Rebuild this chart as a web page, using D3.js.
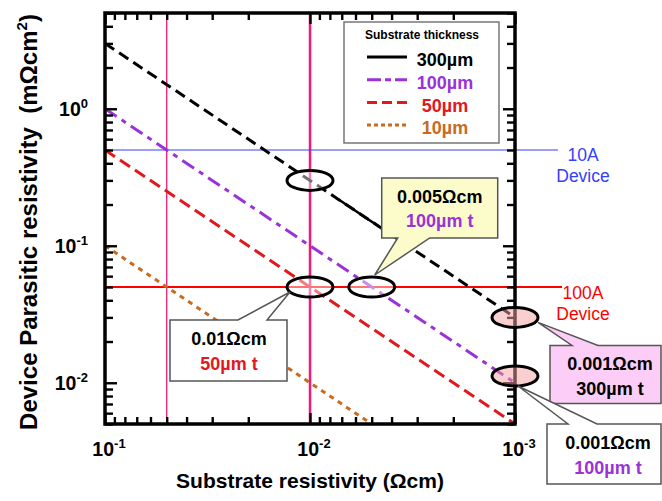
<!DOCTYPE html>
<html>
<head>
<meta charset="utf-8">
<script src="https://cdn.jsdelivr.net/npm/d3@7"></script>
<style>
  body { margin: 0; background: #fff; }
  svg text { font-family: "Liberation Sans", Arial, Helvetica, sans-serif; }
</style>
</head>
<body>
<div id="chart"></div>
<script>
// substrate resistivity (Ωcm) where the lines are sampled
const resistivity = [0.1, 0.01, 0.001];
const thickness = ["300µm", "100µm", "50µm", "10µm"];
// device parasitic resistivity (mΩcm²) per thickness
const para300 = [3, 0.3, 0.03];
const para100 = [1, 0.1, 0.01];
const para50 = [0.5, 0.05, 0.005];
const para10 = [0.1, 0.01, 0.001];
// the 300µm line is drawn solid only in this stretch
const solid300 = [0.0072, 0.0046];

// guide lines
const vGuides = [0.05, 0.01];
const hGuides = [0.5, 0.05];
const hGuideText = [["10A", "Device"], ["100A", "Device"]];

const xTickLabels = [0.1, 0.01, 0.001];
const yTickLabels = [1, 0.1, 0.01];

// circled points (x in Ωcm, y in mΩcm²)
const markX = [0.01, 0.01, 0.005, 0.001, 0.001];
const markY = [0.3, 0.05, 0.05, 0.03, 0.0112];

// callout texts, pointing at the circled points
const calloutMark = [2, 1, 3, 4];
const calloutTop = ["0.005Ωcm", "0.01Ωcm", "0.001Ωcm", "0.001Ωcm"];
const calloutBottom = ["100µm t", "50µm t", "300µm t", "100µm t"];

const colors = ["#000000", "#9a32d8", "#e3171e", "#c96a1c"];
const dashes = ["11,6", "14,6,5,6", "12,6", "5,5"];

var W = 662, H = 501;
var pL = 105, pR = 515, pT = 13, pB = 424;

var svg = d3.select("#chart").append("svg")
    .attr("width", W).attr("height", H);

var x = d3.scaleLog().domain([0.1, 0.001]).range([pL, pR]);
var y = d3.scaleLog().domain([5, 0.005]).range([pT, pB]);

svg.append("clipPath").attr("id", "plot")
  .append("rect").attr("x", pL).attr("y", pT)
  .attr("width", pR - pL).attr("height", pB - pT);
svg.append("clipPath").attr("id", "solidpart")
  .append("rect").attr("x", x(solid300[0])).attr("y", pT)
  .attr("width", x(solid300[1]) - x(solid300[0])).attr("height", pB - pT);

// vertical pink guides
svg.selectAll("line.vg").data(vGuides).enter().append("line")
    .attr("x1", d => x(d)).attr("x2", d => x(d))
    .attr("y1", pT).attr("y2", pB)
    .attr("stroke", "#f0197a")
    .attr("stroke-width", (d, i) => i == 0 ? 1.3 : 2.5);

// horizontal device guides, running past the frame
svg.selectAll("line.hg").data(hGuides).enter().append("line")
    .attr("x1", pL).attr("x2", (d, i) => i == 0 ? 558 : 562)
    .attr("y1", d => y(d)).attr("y2", d => y(d))
    .attr("stroke", (d, i) => i == 0 ? "#3340ff" : "#ff0000")
    .attr("stroke-width", (d, i) => i == 0 ? 1.2 : 2);

// data lines
var series = [para300, para100, para50, para10];
var line = d3.line().x(d => x(d[0])).y(d => y(d[1]));
var lineG = svg.append("g").attr("clip-path", "url(#plot)");
series.forEach(function (vals, i) {
  lineG.append("path")
    .datum(resistivity.map((r, k) => [r, vals[k]]))
    .attr("d", line)
    .attr("fill", "none")
    .attr("stroke", colors[i])
    .attr("stroke-width", 3)
    .attr("stroke-dasharray", dashes[i]);
});
svg.append("path")
    .datum(resistivity.map((r, k) => [r, para300[k]]))
    .attr("d", line)
    .attr("clip-path", "url(#solidpart)")
    .attr("fill", "none").attr("stroke", "#000").attr("stroke-width", 2.5);

// ticks on all four sides, pointing inward
function isDecade(v) {
  var l = Math.log10(v);
  return Math.abs(l - Math.round(l)) < 1e-6;
}
var xMinor = x.ticks().filter(v => !isDecade(v)), xMajor = x.ticks().filter(isDecade);
var yMinor = y.ticks().filter(v => !isDecade(v)), yMajor = y.ticks().filter(isDecade);

function tickGroup(axis, tx, ty) {
  var g = svg.append("g").attr("transform", "translate(" + tx + "," + ty + ")").call(axis);
  g.select(".domain").remove();
  g.selectAll(".tick line").attr("stroke", "#000").attr("stroke-width", 2.4);
  g.selectAll(".tick text").remove();
}
tickGroup(d3.axisBottom(x).tickValues(xMinor).tickSize(-7), 0, pB);
tickGroup(d3.axisBottom(x).tickValues(xMajor).tickSize(-11), 0, pB);
tickGroup(d3.axisTop(x).tickValues(xMinor).tickSize(-7), 0, pT);
tickGroup(d3.axisTop(x).tickValues(xMajor).tickSize(-11), 0, pT);
tickGroup(d3.axisLeft(y).tickValues(yMinor).tickSize(-8), pL, 0);
tickGroup(d3.axisLeft(y).tickValues(yMajor).tickSize(-12), pL, 0);
tickGroup(d3.axisRight(y).tickValues(yMinor).tickSize(-8), pR, 0);
tickGroup(d3.axisRight(y).tickValues(yMajor).tickSize(-12), pR, 0);

svg.append("rect")
    .attr("x", pL).attr("y", pT)
    .attr("width", pR - pL).attr("height", pB - pT)
    .attr("fill", "none").attr("stroke", "#000").attr("stroke-width", 3.5);

// tick labels 10^n
function powerLabel(sel, v) {
  var e = Math.round(Math.log10(v));
  sel.append("tspan").text("10");
  sel.append("tspan").attr("dy", -8).attr("font-size", 13).text(e);
}
svg.selectAll("text.xl").data(xTickLabels).enter().append("text")
    .attr("x", d => x(d) + 4).attr("y", 456)
    .attr("text-anchor", "middle")
    .attr("font-size", 19.5).attr("font-weight", "bold")
    .each(function (d) { powerLabel(d3.select(this), d); });
svg.selectAll("text.yl").data(yTickLabels).enter().append("text")
    .attr("x", 88).attr("y", d => y(d) + 7)
    .attr("text-anchor", "end")
    .attr("font-size", 19.5).attr("font-weight", "bold")
    .each(function (d) { powerLabel(d3.select(this), d); });

// axis titles
svg.append("text")
    .attr("x", 310).attr("y", 488)
    .attr("text-anchor", "middle")
    .attr("font-size", 21).attr("font-weight", "bold")
    .text("Substrate resistivity (Ωcm)");
var yt = svg.append("text")
    .attr("transform", "translate(37,222) rotate(-90)")
    .attr("text-anchor", "middle")
    .attr("font-size", 24).attr("font-weight", "bold")
    .style("white-space", "pre");
yt.append("tspan").text("Device Parasitic resistivity  (mΩcm");
yt.append("tspan").attr("dy", -10).attr("font-size", 15).text("2");
yt.append("tspan").attr("dy", 10).text(")");

// device guide labels
hGuides.forEach(function (g, i) {
  var c = i == 0 ? "#3340ff" : "#ff0000";
  hGuideText[i].forEach(function (t, k) {
    svg.append("text")
      .attr("x", 583).attr("y", y(g) + 11 + k * 21 + (i == 0 ? 0 : 1))
      .attr("text-anchor", "middle")
      .attr("font-size", 17.5).attr("fill", c)
      .text(t);
  });
});

// circled points
svg.selectAll("ellipse.mark").data(markX).enter().append("ellipse")
    .attr("cx", d => x(d))
    .attr("cy", (d, i) => y(markY[i]))
    .attr("rx", 23).attr("ry", 10)
    .attr("fill", (d, i) => i >= 3 ? "rgba(244,160,160,0.5)" : "rgba(255,255,255,0.45)")
    .attr("stroke", "#000").attr("stroke-width", 3);

// callout boxes: box edges and wedge relative to the circled point
var boxGeo = [
  {x0: 10, x1: 126, y0: -109, y1: -49, w0: 26, w1: 58, tx: 3, ty: -12, side: "bottom", fill: "#fcfcca", tcx: 68, ty1: -90, ty2: -66},
  {x0: -140, x1: -23, y0: 33, y1: 94, w0: -72, w1: -43, tx: -20, ty: 5, side: "top", fill: "#ffffff", tcx: -81, ty1: 52, ty2: 77},
  {x0: 35, x1: 146, y0: 28, y1: 86, w0: 57, w1: 83, tx: 23, ty: 5, side: "top", fill: "#fccdf6", tcx: 95, ty1: 46, ty2: 71},
  {x0: 32, x1: 146, y0: 48, y1: 108, w0: 53, w1: 82, tx: 3, ty: 10, side: "top", fill: "#ffffff", tcx: 93, ty1: 67, ty2: 92}
];
var bottomColor = ["#9a32d8", "#e3171e", "#000000", "#9a32d8"];

calloutMark.forEach(function (m, i) {
  var cx = x(markX[m]), cy = y(markY[m]), g = boxGeo[i];
  var p = d3.path();
  if (g.side == "bottom") {
    p.moveTo(cx + g.x0, cy + g.y0);
    p.lineTo(cx + g.x1, cy + g.y0);
    p.lineTo(cx + g.x1, cy + g.y1);
    p.lineTo(cx + g.w1, cy + g.y1);
    p.lineTo(cx + g.tx, cy + g.ty);
    p.lineTo(cx + g.w0, cy + g.y1);
    p.lineTo(cx + g.x0, cy + g.y1);
  } else {
    p.moveTo(cx + g.x0, cy + g.y0);
    p.lineTo(cx + g.w0, cy + g.y0);
    p.lineTo(cx + g.tx, cy + g.ty);
    p.lineTo(cx + g.w1, cy + g.y0);
    p.lineTo(cx + g.x1, cy + g.y0);
    p.lineTo(cx + g.x1, cy + g.y1);
    p.lineTo(cx + g.x0, cy + g.y1);
  }
  p.closePath();
  svg.append("path").attr("d", p.toString())
    .attr("fill", g.fill).attr("stroke", "#555").attr("stroke-width", 1.5);

  svg.append("text")
    .attr("x", cx + g.tcx).attr("y", cy + g.ty1)
    .attr("dy", "0.35em").attr("text-anchor", "middle")
    .attr("font-size", 18).attr("font-weight", "bold")
    .text(calloutTop[i]);
  svg.append("text")
    .attr("x", cx + g.tcx).attr("y", cy + g.ty2)
    .attr("dy", "0.35em").attr("text-anchor", "middle")
    .attr("font-size", 18).attr("font-weight", "bold")
    .attr("fill", bottomColor[i])
    .text(calloutBottom[i]);
});

// legend
var lg = svg.append("g");
lg.append("rect")
    .attr("x", 344).attr("y", 22).attr("width", 155).attr("height", 121)
    .attr("fill", "#fff").attr("stroke", "#777").attr("stroke-width", 1.5);
lg.append("text")
    .attr("x", 422).attr("y", 35).attr("dy", "0.35em")
    .attr("text-anchor", "middle")
    .attr("font-size", 12).attr("font-weight", "bold")
    .text("Substrate thickness");
thickness.forEach(function (t, i) {
  var ly = 57 + i * 22.7;
  lg.append("line")
    .attr("x1", 367).attr("x2", 407).attr("y1", ly).attr("y2", ly)
    .attr("stroke", colors[i]).attr("stroke-width", 3)
    .attr("stroke-dasharray", i == 0 ? null : (i == 1 ? "14,4,6,4" : (i == 2 ? "10,5" : "4,3")));
  lg.append("text")
    .attr("x", 445).attr("y", ly + 3).attr("dy", "0.35em")
    .attr("text-anchor", "middle")
    .attr("font-size", 18).attr("font-weight", "bold")
    .attr("fill", colors[i])
    .text(t);
});
</script>
</body>
</html>
